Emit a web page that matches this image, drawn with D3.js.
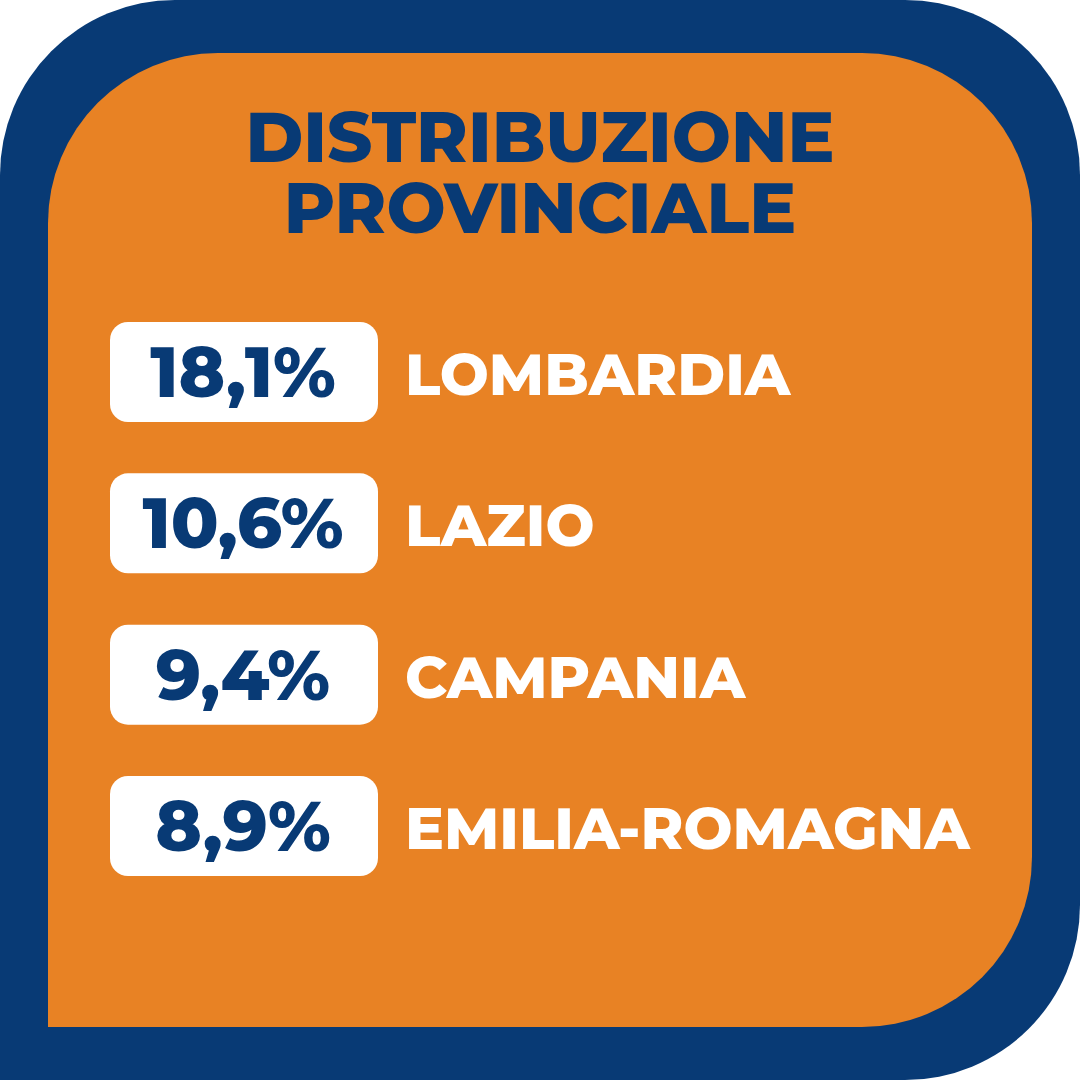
<!DOCTYPE html>
<html><head><meta charset="utf-8">
<script src="https://cdn.jsdelivr.net/npm/d3@7"></script>
<style>body{margin:0;background:#fff}</style>
</head><body><svg id="chart"></svg>
<script>
// Dati
var regions = ["LOMBARDIA", "LAZIO", "CAMPANIA", "EMILIA-ROMAGNA"];
var values = [18.1, 10.6, 9.4, 8.9];
var titleLines = ["DISTRIBUZIONE", "PROVINCIALE"];

var width = 1080, height = 1080;
var blue = "#083a75", orange = "#e88224";
var font = "Montserrat, 'Open Sans', Lato, sans-serif";

var svg = d3.select("#chart").attr("width", width).attr("height", height);

// Forma con angoli arrotondati tranne quello in basso a sinistra
function shape(x0, y0, x1, y1, r) {
  var p = d3.path();
  p.moveTo(x0, y0 + r);
  p.arcTo(x0, y0, x0 + r, y0, r);
  p.lineTo(x1 - r, y0);
  p.arcTo(x1, y0, x1, y0 + r, r);
  p.lineTo(x1, y1 - r);
  p.arcTo(x1, y1, x1 - r, y1, r);
  p.lineTo(x0, y1);
  p.closePath();
  return p.toString();
}

svg.append("path").attr("d", shape(0, 0, 1080, 1080, 175)).attr("fill", blue);
svg.append("path").attr("d", shape(48, 53, 1032, 1027, 170)).attr("fill", orange);

// Titolo
svg.selectAll(".title").data(titleLines).enter().append("text")
  .attr("x", 540).attr("y", (d, i) => 162 + i * 71)
  .attr("text-anchor", "middle")
  .style("font-family", font).style("font-weight", 800)
  .style("font-size", "70px").style("fill", blue)
  .text(d => d);

var y = d3.scaleBand().domain(regions).range([322, 876]).paddingInner(0.339).paddingOuter(0);

var row = svg.selectAll(".row").data(regions).enter().append("g")
  .attr("transform", d => "translate(0," + y(d) + ")");

row.append("rect").attr("x", 110).attr("width", 268).attr("height", y.bandwidth())
  .attr("rx", 18).attr("fill", "#fff");

row.append("text").attr("x", 243).attr("y", 75).attr("text-anchor", "middle")
  .style("font-family", font).style("font-weight", 800).style("font-size", "70px")
  .style("fill", blue)
  .text((d, i) => d3.format(".1f")(values[i]).replace(".", ",") + "%");

row.append("text").attr("x", 405).attr("y", 73)
  .style("font-family", font).style("font-weight", 800).style("font-size", "58px")
  .style("fill", "#fff")
  .text(d => d);
</script></body></html>
